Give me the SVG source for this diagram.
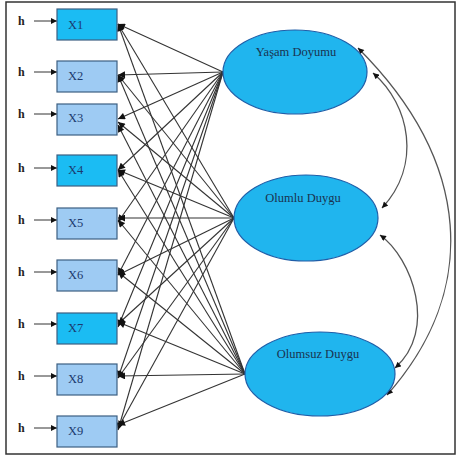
<svg xmlns="http://www.w3.org/2000/svg" width="456" height="456" viewBox="0 0 456 456">
  <style>
    .frame { fill: #ffffff; stroke: #333333; stroke-width: 1.5; }
    .box { stroke: #3d5f82; stroke-width: 1.2; }
    .bright { fill: #1bbcf3; }
    .light { fill: #9ecbf3; }
    .lat { fill: #20b5ee; stroke: #1f5ea8; stroke-width: 1.2; }
    .blabel { font-family: "Liberation Serif", "Times New Roman", serif; font-size: 12.5px; fill: #1c3a6e; }
    .llabel { font-family: "Liberation Serif", "Times New Roman", serif; font-size: 12.5px; fill: #1a3350; text-anchor: middle; }
    .h { font-family: "Liberation Serif", "Times New Roman", serif; font-size: 12px; font-weight: bold; fill: #222222; }
    .path { stroke: #333333; stroke-width: 1.1; fill: none; }
    .err { stroke: #333333; stroke-width: 1; fill: none; }
    .cov { stroke: #555555; stroke-width: 1.3; fill: none; }
  </style>
  <defs>
    <marker id="tip" viewBox="0 0 10 10" refX="10" refY="5" markerWidth="7" markerHeight="6" markerUnits="userSpaceOnUse" orient="auto-start-reverse">
      <path d="M0,0 L10,5 L0,10 z" fill="#111111"/>
    </marker>
    <marker id="head" viewBox="0 0 10 10" refX="10" refY="5" markerWidth="8" markerHeight="7" markerUnits="userSpaceOnUse" orient="auto">
      <path d="M0,0 L10,5 L0,10 z" fill="#111111"/>
    </marker>
  </defs>

  <rect class="frame" x="6" y="2" width="449" height="452"/>

  <!-- loadings: each latent factor to each indicator -->
  <g id="connectors">
    <g class="path" marker-end="url(#head)">
      <!-- from Yaşam Doyumu -->
      <line x1="223" y1="72" x2="118" y2="24"/>
      <line x1="223" y1="72" x2="118" y2="75"/>
      <line x1="223" y1="72" x2="118" y2="119"/>
      <line x1="223" y1="72" x2="118" y2="170"/>
      <line x1="223" y1="72" x2="118" y2="222"/>
      <line x1="223" y1="72" x2="118" y2="275"/>
      <line x1="223" y1="72" x2="118" y2="327"/>
      <line x1="223" y1="72" x2="118" y2="378"/>
      <line x1="223" y1="72" x2="118" y2="430"/>
      <!-- from Olumlu Duygu -->
      <line x1="234" y1="218" x2="118" y2="24"/>
      <line x1="234" y1="218" x2="118" y2="75"/>
      <line x1="234" y1="218" x2="118" y2="122"/>
      <line x1="234" y1="218" x2="118" y2="170"/>
      <line x1="234" y1="218" x2="118" y2="218"/>
      <line x1="234" y1="218" x2="118" y2="275"/>
      <line x1="234" y1="218" x2="118" y2="324"/>
      <line x1="234" y1="218" x2="118" y2="378"/>
      <line x1="234" y1="218" x2="118" y2="428"/>
      <!-- from Olumsuz Duygu -->
      <line x1="245" y1="374" x2="118" y2="24"/>
      <line x1="245" y1="374" x2="118" y2="75"/>
      <line x1="245" y1="374" x2="118" y2="125"/>
      <line x1="245" y1="374" x2="118" y2="170"/>
      <line x1="245" y1="374" x2="118" y2="220"/>
      <line x1="245" y1="374" x2="118" y2="272"/>
      <line x1="245" y1="374" x2="118" y2="322"/>
      <line x1="245" y1="374" x2="118" y2="376"/>
      <line x1="245" y1="374" x2="118" y2="425"/>
    </g>
    <!-- error terms -->
    <g class="err" marker-end="url(#tip)">
      <line x1="34" y1="21" x2="57" y2="21"/>
      <line x1="34" y1="72" x2="57" y2="72"/>
      <line x1="34" y1="114" x2="57" y2="114"/>
      <line x1="34" y1="168" x2="57" y2="168"/>
      <line x1="34" y1="220" x2="57" y2="220"/>
      <line x1="34" y1="272" x2="57" y2="272"/>
      <line x1="34" y1="324" x2="57" y2="324"/>
      <line x1="34" y1="376" x2="57" y2="376"/>
      <line x1="34" y1="428" x2="57" y2="428"/>
    </g>
    <!-- covariances between factors -->
    <g class="cov" marker-start="url(#tip)" marker-end="url(#tip)">
      <path d="M373,73 C410,105 422,165 382,208"/>
      <path d="M380,235 C412,258 438,330 395,368"/>
      <path d="M358,48 C472,162 480,290 387,395"/>
    </g>
  </g>

  <!-- error labels -->
  <g id="errors">
    <text class="h" x="18" y="25">h</text>
    <text class="h" x="18" y="76">h</text>
    <text class="h" x="18" y="118">h</text>
    <text class="h" x="18" y="172">h</text>
    <text class="h" x="18" y="224">h</text>
    <text class="h" x="18" y="276">h</text>
    <text class="h" x="18" y="328">h</text>
    <text class="h" x="18" y="380">h</text>
    <text class="h" x="18" y="432">h</text>
  </g>

  <g id="X1"><rect class="box bright" x="57" y="9" width="60" height="31"/><text class="blabel" x="68" y="29">X1</text></g>
  <g id="X2"><rect class="box light" x="57" y="61" width="60" height="31"/><text class="blabel" x="68" y="80">X2</text></g>
  <g id="X3"><rect class="box light" x="57" y="104" width="60" height="31"/><text class="blabel" x="68" y="122">X3</text></g>
  <g id="X4"><rect class="box bright" x="57" y="155" width="60" height="31"/><text class="blabel" x="68" y="174">X4</text></g>
  <g id="X5"><rect class="box light" x="57" y="208" width="60" height="31"/><text class="blabel" x="68" y="227">X5</text></g>
  <g id="X6"><rect class="box light" x="57" y="260" width="60" height="31"/><text class="blabel" x="68" y="279">X6</text></g>
  <g id="X7"><rect class="box bright" x="57" y="313" width="60" height="31"/><text class="blabel" x="68" y="332">X7</text></g>
  <g id="X8"><rect class="box light" x="57" y="364" width="60" height="31"/><text class="blabel" x="68" y="383">X8</text></g>
  <g id="X9"><rect class="box light" x="57" y="416" width="60" height="31"/><text class="blabel" x="68" y="435">X9</text></g>

  <g id="YasamDoyumu">
    <ellipse class="lat" cx="295" cy="72" rx="72" ry="42"/>
    <text class="llabel" x="296" y="56">Yaşam Doyumu</text>
  </g>
  <g id="OlumluDuygu">
    <ellipse class="lat" cx="306" cy="218" rx="72" ry="43"/>
    <text class="llabel" x="303" y="202">Olumlu Duygu</text>
  </g>
  <g id="OlumsuzDuygu">
    <ellipse class="lat" cx="320" cy="374" rx="75" ry="42"/>
    <text class="llabel" x="318" y="358">Olumsuz Duygu</text>
  </g>
</svg>
